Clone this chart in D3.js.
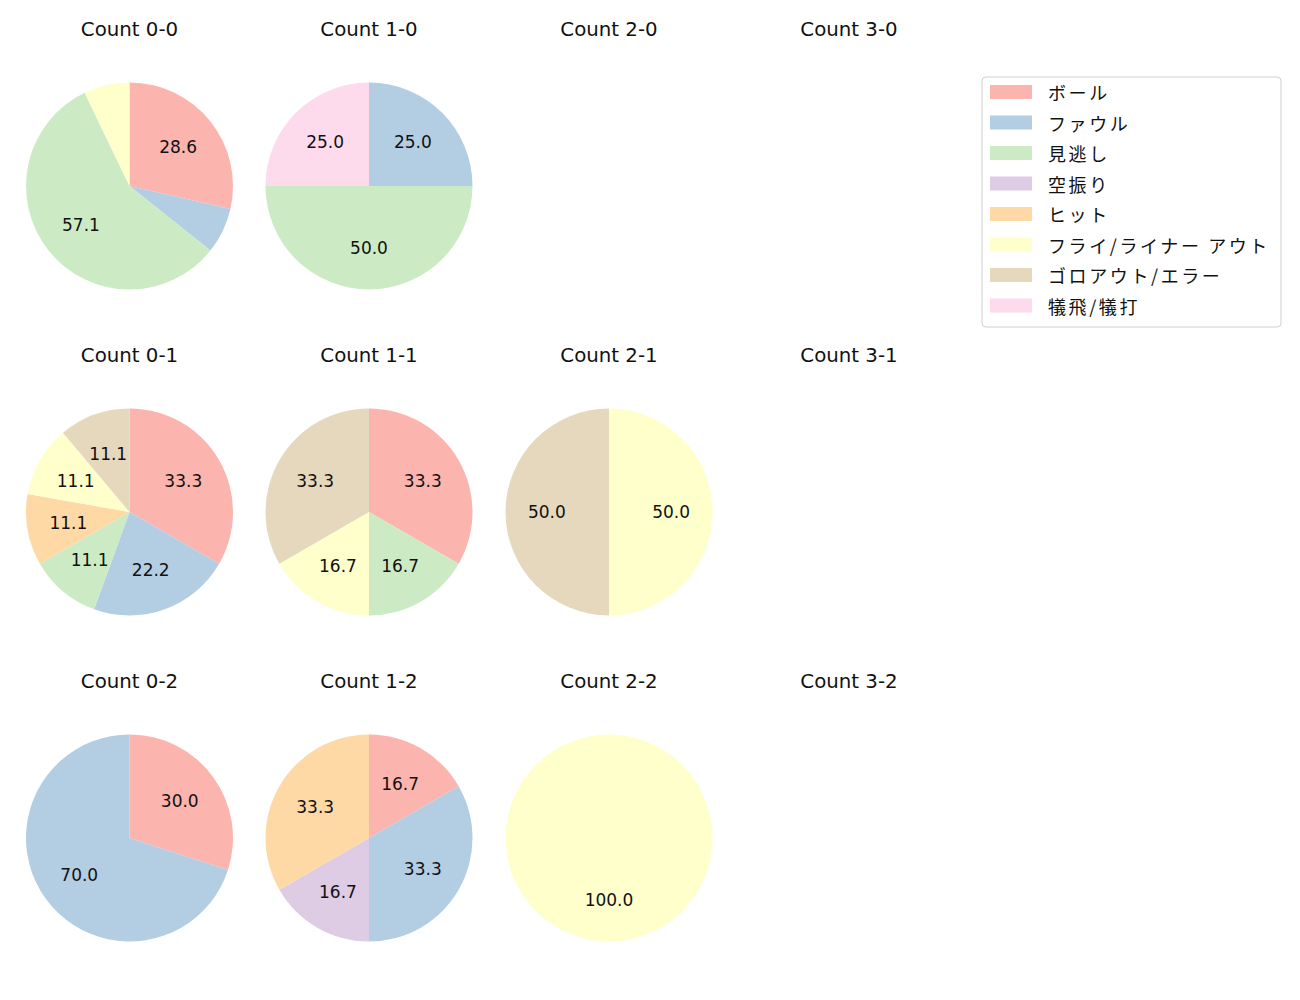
<!DOCTYPE html>
<html><head><meta charset="utf-8">
<script src="https://cdn.jsdelivr.net/npm/d3@7"></script>
<style>body{margin:0;background:#fff}</style>
</head><body>
<script>
const categories = ["ボール","ファウル","見逃し","空振り","ヒット","フライ/ライナー アウト","ゴロアウト/エラー","犠飛/犠打"];
const colors = ["#fbb4ae","#b3cde3","#ccebc5","#decbe4","#fed9a6","#ffffcc","#e5d8bd","#fddaec"];
const countLabels = ["0-0","1-0","2-0","3-0","0-1","1-1","2-1","3-1","0-2","1-2","2-2","3-2"];
const count00 = [4,1,8,0,0,1,0,0];
const count10 = [0,1,2,0,0,0,0,1];
const count20 = [0,0,0,0,0,0,0,0];
const count30 = [0,0,0,0,0,0,0,0];
const count01 = [3,2,1,0,1,1,1,0];
const count11 = [2,0,1,0,0,1,2,0];
const count21 = [0,0,0,0,0,1,1,0];
const count31 = [0,0,0,0,0,0,0,0];
const count02 = [3,7,0,0,0,0,0,0];
const count12 = [1,2,0,1,2,0,0,0];
const count22 = [0,0,0,0,0,1,0,0];
const count32 = [0,0,0,0,0,0,0,0];
const allCounts = [count00,count10,count20,count30,count01,count11,count21,count31,count02,count12,count22,count32];

const W=1300,H=1000;
const svg=d3.select("body").append("svg").attr("width",W).attr("height",H)
  .style("font-family","'DejaVu Sans','Noto Sans CJK JP',sans-serif");
const colX=[129.5,369,609,849], rowY=[186,512,838], R=103.5;
const color=d3.scaleOrdinal().domain(categories).range(colors);
const pie=d3.pie().sort(null).value(d=>d.v).startAngle(0).endAngle(2*Math.PI);
const arc=d3.arc().innerRadius(0).outerRadius(R);
const labelArc=d3.arc().innerRadius(R*0.6).outerRadius(R*0.6);

allCounts.forEach((vals,i)=>{
  const cx=colX[i%4], cy=rowY[Math.floor(i/4)];
  svg.append("text").attr("x",cx).attr("y",cy-157).attr("text-anchor","middle")
    .attr("font-size","19.8px").attr("dominant-baseline","central").attr("fill","#111").text("Count "+countLabels[i]);
  const total=d3.sum(vals);
  if(total===0) return;
  const data=vals.map((v,k)=>({v,c:categories[k]})).filter(d=>d.v>0);
  const g=svg.append("g").attr("transform",`translate(${cx},${cy})`);
  const arcs=pie(data);
  g.selectAll("path").data(arcs).join("path").attr("d",arc).attr("fill",d=>color(d.data.c));
  g.selectAll("text").data(arcs.filter(a=>a.data.v/total*100>=10)).join("text")
    .attr("transform",d=>`translate(${labelArc.centroid(d)})`)
    .attr("text-anchor","middle").attr("dominant-baseline","central")
    .attr("font-size","17px").attr("fill","#111")
    .text(d=>(d.data.v/total*100).toFixed(1));
});

// legend
const lg=svg.append("g");
lg.append("rect").attr("x",982).attr("y",77).attr("width",299).attr("height",250)
  .attr("rx",4).attr("fill","#fff").attr("stroke","#d0d0d0");
categories.forEach((c,k)=>{
  const y=92+k*30.5;
  lg.append("rect").attr("x",990).attr("y",y-7).attr("width",42).attr("height",14).attr("fill",color(c));
  lg.append("text").attr("x",1048).attr("y",y).attr("dominant-baseline","central")
    .style("font-family","'Noto Sans CJK JP',sans-serif")
    .attr("font-size","18px").attr("letter-spacing","2.6px").attr("fill","#111").text(c);
});
</script>
</body></html>
